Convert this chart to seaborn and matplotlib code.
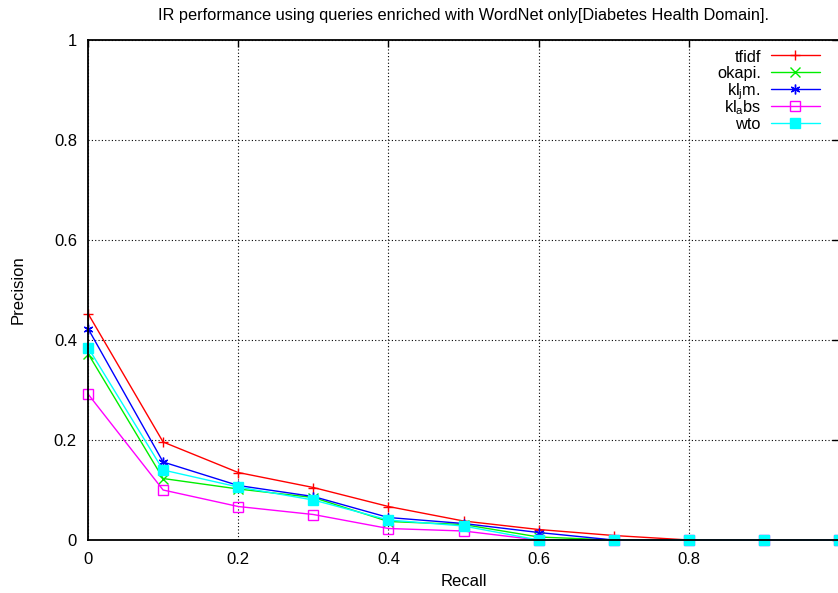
import matplotlib
matplotlib.use("Agg")
import matplotlib.pyplot as plt
import seaborn as sns
import pandas as pd
import numpy as np

recall = [0.0, 0.1, 0.2, 0.3, 0.4, 0.5, 0.6, 0.7, 0.8, 0.9, 1.0]
tfidf = [0.453, 0.196, 0.135, 0.105, 0.067, 0.038, 0.021, 0.009, 0.0, 0.0, 0.0]
okapi = [0.373, 0.123, 0.102, 0.085, 0.037, 0.031, 0.006, 0.0, 0.0, 0.0, 0.0]
kljm = [0.423, 0.156, 0.109, 0.087, 0.045, 0.033, 0.015, 0.0, 0.0, 0.0, 0.0]
klabs = [0.292, 0.100, 0.067, 0.051, 0.023, 0.018, 0.0, 0.0, 0.0, 0.0, 0.0]
wto = [0.385, 0.140, 0.106, 0.080, 0.040, 0.028, 0.0, 0.0, 0.0, 0.0, 0.0]

labels = ["tfidf", "okapi.", "kl$_j$m.", "kl$_a$bs", "wto"]
series = [tfidf, okapi, kljm, klabs, wto]
colors = ["#ff0000", "#00ee00", "#0000ff", "#ff00ff", "#00ffff"]
markers = ["+", "x", (6, 2, 0), "s", "s"]
mfc = ["#ff0000", "#00ee00", "#0000ff", "none", "#00ffff"]
xtick_labels = ["0", "0.2", "0.4", "0.6", "0.8", ""]
ytick_labels = ["0", "0.2", "0.4", "0.6", "0.8", "1"]

sns.set_style("white")
plt.rcParams['font.family'] = ['Liberation Sans', 'DejaVu Sans']
plt.rcParams['mathtext.fontset'] = 'custom'
plt.rcParams['mathtext.rm'] = 'Liberation Sans'
plt.rcParams['mathtext.it'] = 'Liberation Sans'
for key in ['text.color', 'axes.labelcolor', 'xtick.color', 'ytick.color',
            'axes.edgecolor']:
    plt.rcParams[key] = 'black'

W, H = 838, 593
fig = plt.figure(figsize=(W / 100, H / 100), dpi=100)
ax = fig.add_axes([88 / W, 53 / H, 751 / W, 500 / H])

for lab, vals, c, m, fc in zip(labels, series, colors, markers, mfc):
    df = pd.DataFrame({"Recall": recall, "Precision": vals})
    sns.lineplot(data=df, x="Recall", y="Precision", ax=ax, color=c,
                 marker=m, markersize=7, markerfacecolor=fc,
                 markeredgecolor=c, markeredgewidth=1.0, linewidth=1.0,
                 legend=False, clip_on=False)

ax.set_xlim(0, 1)
ax.set_ylim(0, 1)
ax.set_xticks([0, 0.2, 0.4, 0.6, 0.8, 1.0])
ax.set_xticklabels(xtick_labels)
ax.set_yticks([0, 0.2, 0.4, 0.6, 0.8, 1.0])
ax.set_yticklabels(ytick_labels)
ax.tick_params(direction="in", length=5, width=1, labelsize=12, color="black",
               labelcolor="black", top=True, right=True)
ax.tick_params(axis="x", pad=9)
ax.tick_params(axis="y", pad=8)
ax.grid(True, color="black", linestyle=(0, (1, 2)), linewidth=0.8)
for s in ax.spines.values():
    s.set_color("black")
    s.set_linewidth(1.3)

ax.set_xlabel("Recall", fontsize=12, labelpad=5, color="black")
ax.set_ylabel("Precision", fontsize=12, labelpad=20, color="black")
ax.set_title("IR performance using queries enriched with WordNet only[Diabetes Health Domain].",
             fontsize=11.8, pad=14.5, color="black")

# gnuplot-style key: label right-aligned, then line sample with marker
def axx(px):
    return (px - 88) / 751

def axy(py):
    return 1 - (py - 40) / 500

for i, (lab, c, m, fc) in enumerate(zip(labels, colors, markers, mfc)):
    yrow = 55 + 16.9 * i
    ax.plot([axx(771), axx(820)], [axy(yrow), axy(yrow)], color=c, linewidth=1.0,
            transform=ax.transAxes, clip_on=False)
    ax.plot([axx(795)], [axy(yrow)], color=c, marker=m, markersize=7,
            markerfacecolor=fc, markeredgecolor=c, markeredgewidth=1.0,
            transform=ax.transAxes, clip_on=False)
    ax.text(axx(761), axy(yrow + 6.5), lab, ha="right", va="baseline",
            fontsize=11.8, color="black", transform=ax.transAxes)

fig.savefig("out.png", dpi=100)
